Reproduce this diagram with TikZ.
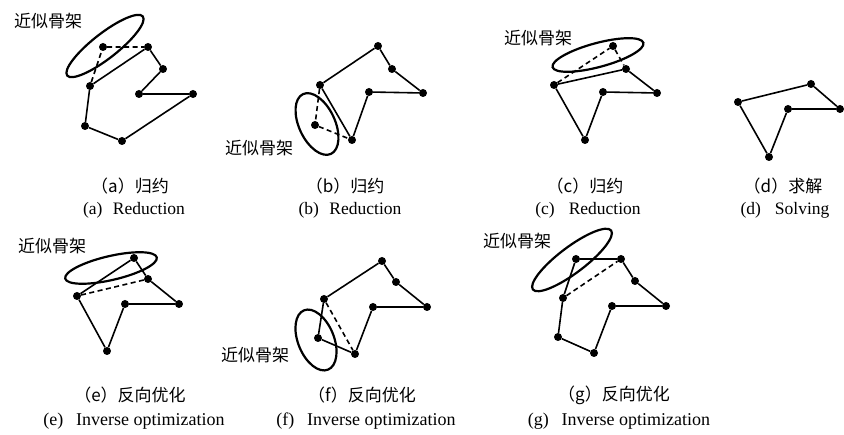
\documentclass[tikz,border=0pt]{standalone}
\usepackage{fontspec}
\setmainfont{Liberation Serif}
\newfontfamily\cjk{Noto Sans CJK SC}
\usetikzlibrary{shapes.geometric}
\begin{document}
\begin{tikzpicture}[x=1pt,y=1pt,
  dot/.style={circle,fill=black,inner sep=0pt,minimum size=8pt},
  solidedge/.style={line width=1.6pt},
  dashedge/.style={line width=1.6pt,dash pattern=on 5pt off 3.5pt},
  skel/.style={ellipse,draw,line width=2.2pt,inner sep=0pt},
  lbl/.style={font=\cjk\fontsize{17}{17}\selectfont,inner sep=0pt},
  capzh/.style={font=\cjk\fontsize{17}{17}\selectfont,inner sep=0pt},
  capen/.style={font=\fontsize{17.5}{17.5}\selectfont,inner sep=0pt},
  capenw/.style={font=\fontsize{18}{18}\selectfont,inner sep=0pt}]
\useasboundingbox (0,0) rectangle (844,435);
% ---------- (a)
\node[dot] (a1) at (103,388) {};
\node[dot] (a2) at (148,388) {};
\node[dot] (a3) at (163,366) {};
\node[dot] (a4) at (139,341) {};
\node[dot] (a5) at (193,341) {};
\node[dot] (a6) at (122,294) {};
\node[dot] (a7) at (85,309) {};
\node[dot] (a8) at (90,349) {};
\draw[solidedge] (a2)--(a3)--(a4)--(a5)--(a6)--(a7)--(a8)--(a2);
\draw[dashedge] (a8)--(a1)--(a2);
\node[skel,minimum width=96pt,minimum height=25pt,rotate=38] (ea) at (105,389) {};
\node[lbl] (la) at (48,414) {近似骨架};
% ---------- (b)
\node[dot] (b1) at (378,389) {};
\node[dot] (b2) at (392,366) {};
\node[dot] (b3) at (423,342) {};
\node[dot] (b4) at (369,343) {};
\node[dot] (b5) at (352,295) {};
\node[dot] (b6) at (315,310) {};
\node[dot] (b7) at (320,350) {};
\draw[solidedge] (b7)--(b1)--(b2)--(b3)--(b4)--(b5)--(b7);
\draw[dashedge] (b7)--(b6)--(b5);
\node[skel,minimum width=36pt,minimum height=66pt,rotate=25] (eb) at (317,311) {};
\node[lbl] (lb) at (259,287) {近似骨架};
% ---------- (c)
\node[dot] (c1) at (613,389) {};
\node[dot] (c2) at (626,366) {};
\node[dot] (c3) at (657,342) {};
\node[dot] (c4) at (603,343) {};
\node[dot] (c5) at (585,295) {};
\node[dot] (c6) at (554,350) {};
\draw[solidedge] (c6)--(c2)--(c3)--(c4)--(c5)--(c6);
\draw[dashedge] (c6)--(c1)--(c2);
\node[skel,minimum width=94pt,minimum height=24pt,rotate=15] (ec) at (598,380) {};
\node[lbl] (lc) at (538,397) {近似骨架};
% ---------- (d)
\node[dot] (d1) at (738,333) {};
\node[dot] (d2) at (811,351) {};
\node[dot] (d3) at (840,326) {};
\node[dot] (d4) at (788,326) {};
\node[dot] (d5) at (769,278) {};
\draw[solidedge] (d1)--(d2)--(d3)--(d4)--(d5)--(d1);
% ---------- (e)
\node[dot] (e1) at (134,177) {};
\node[dot] (e2) at (148,156) {};
\node[dot] (e3) at (179,131) {};
\node[dot] (e4) at (125,131) {};
\node[dot] (e5) at (107,84) {};
\node[dot] (e6) at (77,139) {};
\draw[solidedge] (e6)--(e1)--(e2)--(e3)--(e4)--(e5)--(e6);
\draw[dashedge] (e6)--(e2);
\node[skel,minimum width=94pt,minimum height=24pt,rotate=13] (ee) at (111,167) {};
\node[lbl] (le) at (52,189) {近似骨架};
% ---------- (f)
\node[dot] (f1) at (382,174) {};
\node[dot] (f2) at (396,153) {};
\node[dot] (f3) at (427,128) {};
\node[dot] (f4) at (373,128) {};
\node[dot] (f5) at (355,81) {};
\node[dot] (f6) at (318,97) {};
\node[dot] (f7) at (324,136) {};
\draw[solidedge] (f7)--(f1)--(f2)--(f3)--(f4)--(f5)--(f6)--(f7);
\draw[dashedge] (f7)--(f5);
\node[skel,minimum width=36pt,minimum height=64pt,rotate=22] (ef) at (316,95) {};
\node[lbl] (lf) at (255,80) {近似骨架};
% ---------- (g)
\node[dot] (g1) at (576,176) {};
\node[dot] (g2) at (621,176) {};
\node[dot] (g3) at (635,154) {};
\node[dot] (g4) at (666,129) {};
\node[dot] (g5) at (612,129) {};
\node[dot] (g6) at (594,82) {};
\node[dot] (g7) at (558,98) {};
\node[dot] (g8) at (563,137) {};
\draw[solidedge] (g8)--(g1)--(g2)--(g3)--(g4)--(g5)--(g6)--(g7)--(g8);
\draw[dashedge] (g8)--(g2);
\node[skel,minimum width=98pt,minimum height=26pt,rotate=37] (eg) at (572,175) {};
\node[lbl] (lg) at (517,194) {近似骨架};
% ---------- captions
\node[capzh] (za) at (130,249) {（a）归约};
\node[capzh] (zb) at (345,249) {（b）归约};
\node[capzh] (zc) at (585,249) {（c）归约};
\node[capzh] (zd) at (783,249) {（d）求解};
\node[capen] (na) at (134,225) {(a)\hspace{0.6em}Reduction};
\node[capen] (nb) at (350,225) {(b)\hspace{0.6em}Reduction};
\node[capen] (nc) at (588,225) {(c)\hspace{0.8em}Reduction};
\node[capen] (nd) at (785,225) {(d)\hspace{0.8em}Solving};
\node[capzh] (ze) at (130,40) {（e）反向优化};
\node[capzh] (zf) at (362,40) {（f）反向优化};
\node[capzh] (zg) at (614,40) {（g）反向优化};
\node[capenw] (ne) at (134,14) {(e)\hspace{0.7em}Inverse optimization};
\node[capenw] (nf) at (366,14) {(f)\hspace{0.7em}Inverse optimization};
\node[capenw] (ng) at (619,14) {(g)\hspace{0.7em}Inverse optimization};
\end{tikzpicture}
\end{document}
